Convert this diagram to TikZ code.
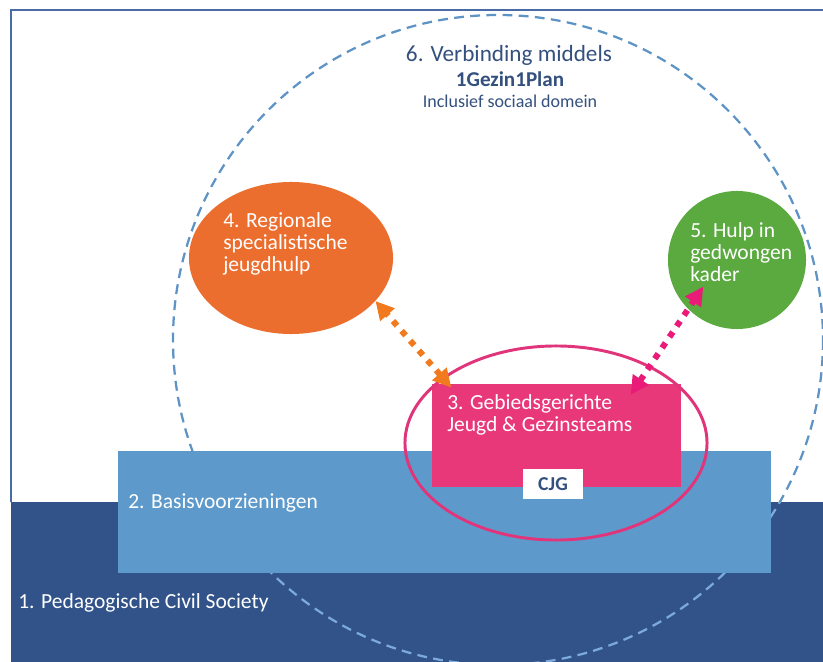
\documentclass[tikz,border=0pt]{standalone}
\usepackage{fontspec}
\setmainfont{Carlito}
\usetikzlibrary{shapes,arrows.meta}

\definecolor{bandblue}{HTML}{31538A}
\definecolor{basisblue}{HTML}{5D9ACB}
\definecolor{ringblue}{HTML}{5E93C6}
\definecolor{ringlight}{HTML}{7BAADB}
\definecolor{frameblue}{HTML}{4A6CA6}
\definecolor{headblue}{HTML}{34507E}
\definecolor{teampink}{HTML}{E8387A}
\definecolor{kringpink}{HTML}{E0357A}
\definecolor{linkpink}{HTML}{EA1A78}
\definecolor{regioorange}{HTML}{EC6E2E}
\definecolor{linkorange}{HTML}{F27A1E}
\definecolor{dwanggreen}{HTML}{5AAA40}

\begin{document}
\begin{tikzpicture}[x=0.025cm,y=-0.025cm,
  txt/.style={text=white,font=\fontsize{15.3}{15.6}\selectfont,align=left,anchor=base west,inner sep=0pt},
  head/.style={text=headblue,anchor=base,inner sep=0pt},
  ring/.style={line width=1.6pt,dash pattern=on 7pt off 4.5pt},
  link/.style={line width=4.3pt,dash pattern=on 4.3pt off 5pt,>={Triangle[length=13pt,width=13pt]},<->}]
\useasboundingbox (0,0) rectangle (823,662);
\fill[white] (-5,-5) rectangle (830,670);
\clip (0,0) rectangle (823,662);

% ondergrond en kader
\fill[bandblue] (11,502) rectangle (830,670);
\draw[frameblue,line width=1.8pt] (11,502) -- (11,10) -- (830,10);
\begin{scope}
  \clip (0,0) rectangle (830,502);
  \draw[ring,ringblue] (498,340) circle [radius=325];
\end{scope}
\begin{scope}
  \clip (0,502) rectangle (830,670);
  \draw[ring,ringlight] (498,340) circle [radius=325];
\end{scope}

\node[shape=rectangle,fill=basisblue,minimum width=16.325cm,minimum height=3.05cm,inner sep=0pt] (basis) at (444.5,512) {};
\node[shape=rectangle,fill=teampink,minimum width=6.225cm,minimum height=2.575cm,inner sep=0pt] (gebied) at (556.5,435.5) {};
\node[shape=rectangle,fill=white,minimum width=1.5cm,minimum height=0.75cm,inner sep=0pt,text=headblue,font=\fontsize{14}{14}\selectfont\bfseries] (cjg) at (553,484) {CJG};
\node[shape=ellipse,draw=kringpink,line width=2.1pt,minimum width=7.55cm,minimum height=4.85cm,inner sep=0pt] (kring) at (556,443) {};
\node[shape=ellipse,fill=regioorange,minimum width=5.1cm,minimum height=3.8cm,inner sep=0pt] (regio) at (291,258) {};
\node[shape=circle,fill=dwanggreen,minimum size=3.45cm,inner sep=0pt] (dwang) at (737,260) {};

% verbindingen
\draw[link,linkorange] ([xshift=14pt,yshift=-2.8pt]gebied.north west) -- (regio.-27);
\draw[link,linkpink] ([xshift=-36pt,yshift=-7.8pt]gebied.north east) -- ([xshift=-24pt,yshift=-19pt]dwang.center);

% teksten (base = laatste regel)
\node[head,font=\fontsize{16.5}{16.5}\selectfont] (t6) at (509,62) {6. Verbinding middels};
\node[head,font=\fontsize{15}{15}\selectfont\bfseries] (plan) at (510,87) {1Gezin1Plan};
\node[head,font=\fontsize{12.8}{12.8}\selectfont] (sociaal) at (510,108) {Inclusief sociaal domein};
\node[txt] (t4) at (223,271.5) {4. Regionale\\specialistische\\jeugdhulp};
\node[txt] (t5) at (690,281.5) {5. Hulp in\\gedwongen\\kader};
\node[txt] (t3) at (447,431.5) {3. Gebiedsgerichte\\Jeugd \& Gezinsteams};
\node[txt] (t2) at (128,508) {2. Basisvoorzieningen};
\node[txt] (t1) at (18,608) {1. Pedagogische Civil Society};

\end{tikzpicture}
\end{document}
